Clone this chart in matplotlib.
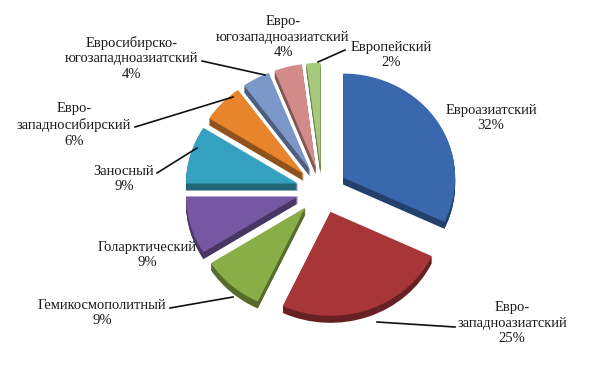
import matplotlib
matplotlib.use("Agg")
import matplotlib.pyplot as plt
import numpy as np
from matplotlib.colors import to_rgb

# ---- data ----
categories = ["Евроазиатский", "Евро-\nзападноазиатский", "Гемикосмополитный",
              "Голарктический", "Заносный", "Евро-\nзападносибирский",
              "Евросибирско-\nюгозападноазиатский", "Евро-\nюгозападноазиатский",
              "Европейский"]
values = [32, 25, 9, 9, 9, 6, 4, 4, 2]
colors = ["#3A68AF", "#A83537", "#8AAE47", "#7657A1", "#33A1BF",
          "#E8842C", "#7C98CB", "#D38B89", "#A7C97B"]

# label layout (pixel coords, origin top-left) and leader lines
label_pos = [(491, 118), (512, 323), (102, 313), (147, 255), (124, 179),
             (74, 125), (132, 58), (283, 37), (391, 55)]
leaders = [None, [(377, 322), (455, 327)], [(233, 297), (170, 308)], None,
           [(197, 148), (157, 173)], [(233, 97), (135, 127)],
           [(265, 75), (202, 61)], None, [(318, 62), (345, 50)]]

W, H = 600, 373
fig = plt.figure(figsize=(W / 100, H / 100), dpi=100)
fig.patch.set_facecolor("white")

# pie axes: ellipse via axis scaling
cx, cy = 322, 190          # centre in pixels (from top)
rx, ry = 112, 104          # radii in pixels
ax = fig.add_axes([0, 0, 1, 1])
explode_px = 25
explode = [explode_px / rx] * len(values)
depth_px = 7
nlayers = 7

def darker(c, f):
    r, g, b = to_rgb(c)
    return (r * f, g * f, b * f)

for k in range(nlayers, 0, -1):
    off = -k * depth_px / nlayers / ry
    ax.pie(values, explode=explode, colors=[darker(c, 0.62) for c in colors],
           startangle=90, counterclock=False, center=(0, off), radius=1.0,
           frame=False, wedgeprops=dict(linewidth=0))
ax.pie(values, explode=explode, colors=colors, startangle=90, counterclock=False,
       center=(0, 0), radius=1.0, frame=False, wedgeprops=dict(linewidth=0))
ax.set_aspect("auto")
ax.set_xlim(-cx / rx, (W - cx) / rx)
ax.set_ylim(-(H - cy) / ry, cy / ry)
ax.axis("off")

# overlay axes for labels in pixel coordinates
ov = fig.add_axes([0, 0, 1, 1], facecolor="none")
ov.set_xlim(0, W)
ov.set_ylim(H, 0)
ov.axis("off")

for name, v, (lx, ly), ld in zip(categories, values, label_pos, leaders):
    ov.text(lx, ly, f"{name}\n{v}%", ha="center", va="center",
            fontsize=10.5, family="Liberation Serif", color="#1a1a1a",
            linespacing=1.25)
    if ld is not None:
        xs, ys = zip(*ld)
        ov.plot(xs, ys, color="#111111", lw=1.2)

fig.savefig("out.png", dpi=100)
